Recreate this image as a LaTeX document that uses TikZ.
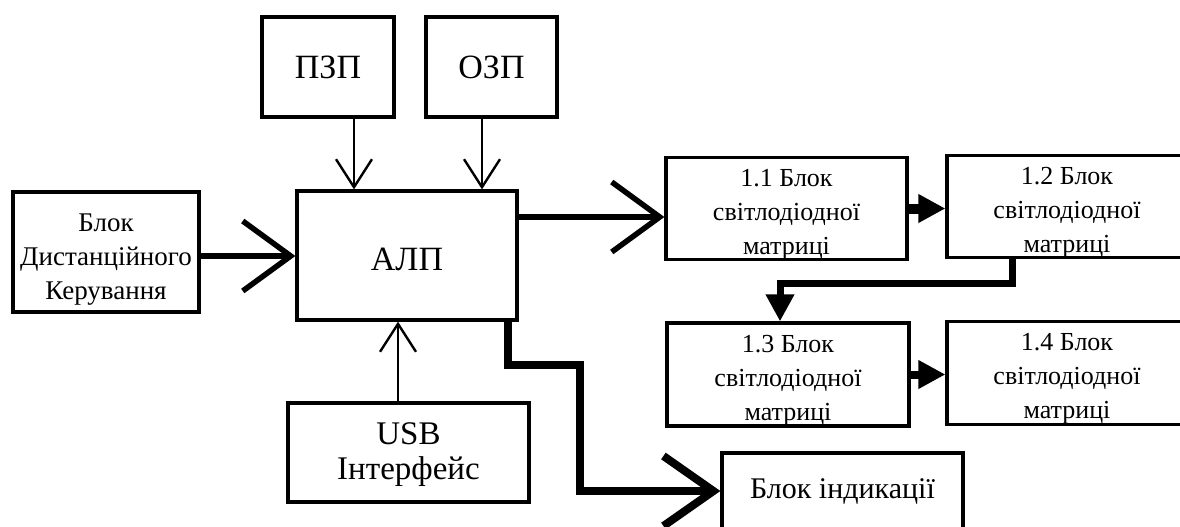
\documentclass[tikz,border=0pt]{standalone}
\usepackage{fontspec}
\setmainfont{Liberation Serif}
\usetikzlibrary{arrows.meta}
\newcommand{\topgap}[1]{\rule{0pt}{#1}}
\begin{document}
\begin{tikzpicture}[x=1pt,y=-1pt,
  blk/.style={draw,line width=3.2pt,rectangle,inner sep=0pt,align=center},
  bigfont/.style={font=\fontsize{34}{40}\selectfont},
  midfont/.style={font=\fontsize{27}{34}\selectfont},
  matfont/.style={font=\fontsize{26}{34}\selectfont},
  thinarr/.style={line width=2.4pt,-{Straight Barb[length=28pt,width=36pt]}},
  bigarr/.style={line width=5.5pt,line join=miter,-{Straight Barb[length=48pt,width=70pt]}},
  fatarr/.style={line width=8pt,line join=miter,-{Straight Barb[length=50pt,width=70pt]}},
  solidarr/.style={line width=#1,line join=miter,-{Triangle[length=27pt,width=27pt]}},
]
\useasboundingbox (0,0) rectangle (1180,527);
\clip (0,0) rectangle (1180,527);

% boxes
\node[blk,bigfont,minimum width=132pt,minimum height=100pt] (pzp) at (328,67) {ПЗП};
\node[blk,bigfont,minimum width=131pt,minimum height=100pt] (ozp) at (491.5,67) {ОЗП};
\node[blk,bigfont,minimum width=220pt,minimum height=129pt] (alu) at (407,255.5) {\topgap{30pt}АЛП};
\node[blk,midfont,minimum width=186pt,minimum height=120pt] (dk) at (106,252) {\topgap{33pt}Блок\\Дистанційного\\Керування};
\node[blk,matfont,minimum width=241pt,minimum height=99pt] (b11) at (786.5,208.5) {\topgap{29pt}1.1 Блок\\світлодіодної\\матриці};
\node[blk,matfont,minimum width=240pt,minimum height=99pt] (b12) at (1067,206.5) {\topgap{29pt}1.2 Блок\\світлодіодної\\матриці};
\node[blk,matfont,minimum width=242pt,minimum height=103pt] (b13) at (788,374.5) {\topgap{29pt}1.3 Блок\\світлодіодної\\матриці};
\node[blk,matfont,minimum width=240pt,minimum height=102pt] (b14) at (1067,373) {\topgap{29pt}1.4 Блок\\світлодіодної\\матриці};
\node[blk,font=\fontsize{33}{35}\selectfont,minimum width=241pt,minimum height=99pt] (usb) at (408.5,452.5) {\topgap{27pt}USB\\Інтерфейс};
\node[blk,font=\fontsize{30}{36}\selectfont,minimum width=241pt,minimum height=76pt] (ind) at (842.5,491) {Блок індикації};

% helper coordinates
\coordinate (xp) at (354,0);
\coordinate (xo) at (482,0);
\coordinate (xu) at (398,0);
\coordinate (ydk) at (0,256);
\coordinate (y11) at (0,217);
\coordinate (k1) at (508,365);
\coordinate (k2) at (580,365);
\coordinate (m1) at (1012,283);
\coordinate (m2) at (780,283);

% connectors
\draw[thinarr] (xp |- pzp.south) -- (xp |- alu.north);
\draw[thinarr] (xo |- ozp.south) -- (xo |- alu.north);
\draw[thinarr] (xu |- usb.north) -- (xu |- alu.south);
\draw[bigarr] (ydk -| dk.east) -- (ydk -| alu.west);
\draw[bigarr] (y11 -| alu.east) -- (y11 -| b11.west);
\draw[fatarr] (k1 |- alu.south) -- (k1) -- (k2) |- (ind.west);
\draw[solidarr=10pt] (b11.east) -- (b11.east -| b12.west);
\draw[solidarr=8pt] (b13.east) -- (b13.east -| b14.west);
\draw[solidarr=7pt] (m1 |- b12.south) -- (m1) -- (m2) -- (m2 |- b13.north);
\end{tikzpicture}
\end{document}
